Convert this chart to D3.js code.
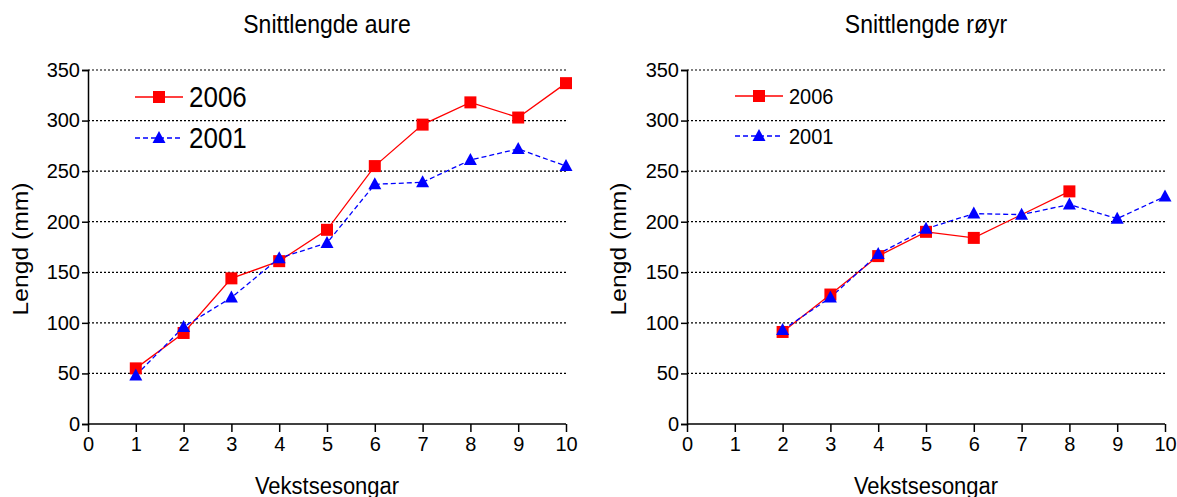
<!DOCTYPE html>
<html>
<head>
<meta charset="utf-8">
<script src="https://cdn.jsdelivr.net/npm/d3@7"></script>
<style>
  body { margin: 0; background: #fff; }
  svg { display: block; font-family: "Liberation Sans", Arial, sans-serif; }
</style>
</head>
<body>
<svg id="chart" width="1177" height="497"></svg>
<script>
const seasons = [1, 2, 3, 4, 5, 6, 7, 8, 9, 10];
const xTicks = [0, 1, 2, 3, 4, 5, 6, 7, 8, 9, 10];
const yTicks = [0, 50, 100, 150, 200, 250, 300, 350];

// Snittlengde aure
const aure2006 = [55, 90, 144, 161, 192, 255, 296, 318, 303, 337];
const aure2001 = [48, 96, 125, 164, 179, 237, 239, 261, 272, 255];

// Snittlengde røyr (null = no value)
const royr2006 = [null, 91, 128, 166, 190, 184, null, 230, null, null];
const royr2001 = [null, 93, 125, 168, 193, 208, 207, 217, 203, 225];

const seriesNames = ["2006", "2001"];

const svg = d3.select("#chart");

// the original picture is a little stretched vertically
const stretch = 1.12;

const panels = [
  { title: "Snittlengde aure", left: 88, s2006: aure2006, s2001: aure2001,
    legendX: 135, legendY: 97, legendGap: 41, legendFont: 26, legendBase: [107, 148], labelX: 28 },
  { title: "Snittlengde røyr", left: 687, s2006: royr2006, s2001: royr2001,
    legendX: 735, legendY: 96, legendGap: 40, legendFont: 20, legendBase: [104, 144], labelX: 626 },
];

const plotW = 478;
const plotTop = 70;
const plotBottom = 424;

const yScale = d3.scaleLinear().domain([0, 350]).range([plotBottom, plotTop]);

function square(g, x, y) {
  g.append("rect")
    .attr("x", x - 6).attr("y", y - 6)
    .attr("width", 12).attr("height", 12)
    .attr("fill", "#ff0000");
}
function triangle(g, x, y) {
  g.append("path")
    .attr("d", `M${x},${y - 7}L${x + 6.5},${y + 5}L${x - 6.5},${y + 5}Z`)
    .attr("fill", "#0000ff");
}
function label(g, x, y, size, txt, rotate) {
  return g.append("text")
    .attr("transform", `translate(${x},${y})${rotate ? " rotate(-90) scale(" + stretch + ",1)" : " scale(1," + stretch + ")"}`)
    .attr("font-size", size)
    .attr("fill", "#000")
    .text(txt);
}

panels.forEach((p) => {
  const xScale = d3.scaleLinear().domain([0, 10]).range([p.left, p.left + plotW]);
  const g = svg.append("g");

  // gridlines
  g.selectAll(".grid")
    .data(yTicks.filter((d) => d > 0))
    .enter()
    .append("line")
    .attr("x1", xScale(0)).attr("x2", xScale(10))
    .attr("y1", (d) => yScale(d)).attr("y2", (d) => yScale(d))
    .attr("stroke", "#000")
    .attr("stroke-width", 1.2)
    .attr("stroke-dasharray", "2,2");

  // axes
  const yAxis = g.append("g")
    .attr("transform", `translate(${xScale(0)},0)`)
    .call(d3.axisLeft(yScale).tickValues(yTicks).tickSize(6).tickPadding(2));
  const xAxis = g.append("g")
    .attr("transform", `translate(0,${plotBottom})`)
    .call(d3.axisBottom(xScale).tickValues(xTicks).tickSize(8).tickPadding(5).tickFormat(d3.format("d")));
  [yAxis, xAxis].forEach((a) => {
    a.select(".domain").attr("stroke-width", 1.5);
    a.selectAll(".tick line").attr("stroke-width", 1.5);
    a.selectAll("text").attr("font-size", 20).attr("font-family", "Liberation Sans, Arial, sans-serif").attr("fill", "#000");
  });
  xAxis.select(".domain").attr("d", `M${xScale(0)},0H${xScale(10)}`);

  // title and axis labels
  label(g, xScale(5), 33, 23, p.title).attr("text-anchor", "middle");
  label(g, xScale(5), 494, 22, "Vekstsesongar").attr("text-anchor", "middle");
  label(g, p.labelX, 249, 22, "Lengd (mm)", true).attr("text-anchor", "middle");

  // lines
  const pts2006 = seasons.map((s, i) => ({ x: s, y: p.s2006[i] })).filter((d) => d.y != null);
  const pts2001 = seasons.map((s, i) => ({ x: s, y: p.s2001[i] })).filter((d) => d.y != null);
  const line = d3.line().x((d) => xScale(d.x)).y((d) => yScale(d.y));

  g.append("path").datum(pts2006)
    .attr("fill", "none").attr("stroke", "#ff0000").attr("stroke-width", 1.3)
    .attr("d", line);
  g.append("path").datum(pts2001)
    .attr("fill", "none").attr("stroke", "#0000ff").attr("stroke-width", 1.3)
    .attr("stroke-dasharray", "5,3")
    .attr("d", line);

  pts2006.forEach((d) => square(g, xScale(d.x), yScale(d.y)));
  pts2001.forEach((d) => triangle(g, xScale(d.x), yScale(d.y)));

  // legend
  const lg = g.append("g");
  lg.append("line")
    .attr("x1", p.legendX).attr("x2", p.legendX + 48)
    .attr("y1", p.legendY).attr("y2", p.legendY)
    .attr("stroke", "#ff0000").attr("stroke-width", 1.3);
  square(lg, p.legendX + 24, p.legendY);
  lg.append("line")
    .attr("x1", p.legendX).attr("x2", p.legendX + 48)
    .attr("y1", p.legendY + p.legendGap).attr("y2", p.legendY + p.legendGap)
    .attr("stroke", "#0000ff").attr("stroke-width", 1.3)
    .attr("stroke-dasharray", "5,3");
  triangle(lg, p.legendX + 24, p.legendY + p.legendGap);
  seriesNames.forEach((name, i) => {
    label(lg, p.legendX + 54, p.legendBase[i], p.legendFont, name);
  });
});
</script>
</body>
</html>
